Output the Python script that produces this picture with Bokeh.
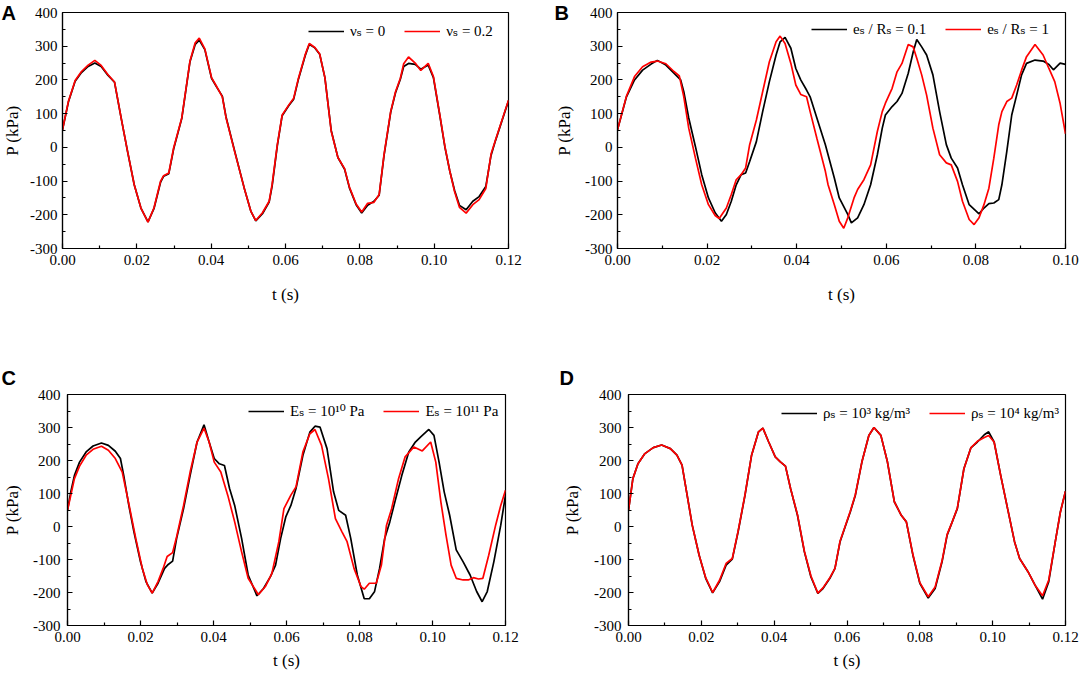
from bokeh.plotting import figure
from bokeh.models import Range1d, FixedTicker, Legend, LegendItem, Label
from bokeh.layouts import column, row
from bokeh.embed import file_html
from bokeh.resources import INLINE

# ---------------- data ----------------
# Panel A: v_s = 0 (black) and v_s = 0.2 (red)
tA = [0.0000, 0.0016, 0.0034, 0.0051, 0.0069, 0.0087, 0.0104, 0.0122, 0.0140, 0.0158,
      0.0175, 0.0193, 0.0211, 0.0230, 0.0246, 0.0264, 0.0272, 0.0286, 0.0299, 0.0321,
      0.0343, 0.0357, 0.0368, 0.0383, 0.0401, 0.0414, 0.0430, 0.0440, 0.0463, 0.0489,
      0.0507, 0.0520, 0.0538, 0.0556, 0.0564, 0.0578, 0.0591, 0.0609, 0.0622, 0.0635,
      0.0653, 0.0664, 0.0679, 0.0692, 0.0706, 0.0723, 0.0741, 0.0759, 0.0772, 0.0790,
      0.0805, 0.0821, 0.0838, 0.0852, 0.0865, 0.0883, 0.0896, 0.0909, 0.0918, 0.0931,
      0.0949, 0.0964, 0.0984, 0.0998, 0.1015, 0.1029, 0.1042, 0.1055, 0.1068, 0.1086,
      0.1104, 0.1121, 0.1139, 0.1153, 0.1165, 0.1200]
pA_v0 = [52, 135, 196, 222, 240, 250, 240, 214, 193, 86,
         -12, -111, -180, -221, -182, -103, -86, -78, -5, 86,
         254, 305, 318, 290, 205, 180, 152, 90, -10, -121,
         -190, -218, -197, -162, -115, 5, 94, 124, 143, 203,
         272, 306, 295, 276, 207, 50, -30, -65, -120, -170,
         -195, -172, -160, -142, -25, 104, 162, 202, 240, 249,
         246, 232, 244, 207, 96, 0, -70, -128, -172, -185,
         -160, -146, -116, -24, 20, 138]
pA_v02 = [52, 137, 198, 225, 244, 258, 243, 216, 194, 86,
          -12, -111, -180, -222, -180, -100, -84, -76, -2, 88,
          256, 310, 324, 292, 207, 182, 150, 88, -12, -121,
          -190, -217, -194, -160, -110, 8, 96, 126, 146, 206,
          275, 308, 296, 277, 207, 48, -30, -63, -118, -168,
          -192, -166, -163, -140, -22, 106, 165, 205, 248, 268,
          250, 228, 249, 210, 98, 2, -70, -132, -178, -195,
          -170, -155, -122, -20, 22, 140]

# Panel B: e_s/R_s = 0.1 (black) and e_s/R_s = 1 (red)
tB_01 = [0.0000, 0.0020, 0.0038, 0.0056, 0.0075, 0.0089, 0.0108, 0.0126, 0.0141, 0.0148,
         0.0159, 0.0174, 0.0188, 0.0203, 0.0218, 0.0232, 0.0243, 0.0254, 0.0265, 0.0276,
         0.0286, 0.0295, 0.0310, 0.0324, 0.0339, 0.0354, 0.0363, 0.0374, 0.0387, 0.0398,
         0.0409, 0.0422, 0.0430, 0.0445, 0.0464, 0.0470, 0.0484, 0.0495, 0.0514, 0.0522,
         0.0536, 0.0550, 0.0565, 0.0580, 0.0591, 0.0598, 0.0613, 0.0624, 0.0635, 0.0649,
         0.0660, 0.0668, 0.0679, 0.0690, 0.0704, 0.0719, 0.0734, 0.0745, 0.0759, 0.0770,
         0.0785, 0.0807, 0.0818, 0.0829, 0.0840, 0.0851, 0.0858, 0.0869, 0.0880, 0.0891,
         0.0902, 0.0913, 0.0932, 0.0950, 0.0963, 0.0973, 0.0988, 0.1000]
pB_01 = [52, 150, 200, 229, 247, 258, 244, 220, 200, 165,
         87, 2, -81, -150, -194, -219, -199, -160, -111, -81,
         -76, -42, 17, 106, 195, 274, 313, 326, 294, 234,
         200, 170, 150, 87, 8, -22, -91, -150, -199, -224,
         -209, -170, -111, -22, 57, 96, 121, 136, 160, 220,
         283, 320, 298, 274, 215, 106, 8, -32, -61, -111,
         -170, -197, -180, -167, -165, -155, -111, -12, 96, 155,
         215, 249, 259, 256, 246, 230, 250, 246]
tB_1 = [0.0000, 0.0020, 0.0038, 0.0056, 0.0075, 0.0089, 0.0108, 0.0126, 0.0138, 0.0148,
        0.0159, 0.0174, 0.0188, 0.0203, 0.0218, 0.0227, 0.0243, 0.0254, 0.0265, 0.0276,
        0.0286, 0.0295, 0.0310, 0.0324, 0.0339, 0.0354, 0.0363, 0.0374, 0.0387, 0.0398,
        0.0409, 0.0422, 0.0430, 0.0445, 0.0464, 0.0470, 0.0484, 0.0495, 0.0505, 0.0514,
        0.0528, 0.0536, 0.0550, 0.0565, 0.0580, 0.0591, 0.0598, 0.0613, 0.0624, 0.0635,
        0.0649, 0.0660, 0.0668, 0.0679, 0.0690, 0.0704, 0.0719, 0.0734, 0.0745, 0.0759,
        0.0770, 0.0785, 0.0796, 0.0807, 0.0818, 0.0829, 0.0840, 0.0851, 0.0858, 0.0869,
        0.0880, 0.0891, 0.0902, 0.0913, 0.0932, 0.0950, 0.0963, 0.0976, 0.0988, 0.1000]
pB_1 = [52, 152, 210, 239, 253, 256, 248, 225, 212, 150,
        57, -32, -111, -170, -202, -211, -180, -140, -96, -81,
        -61, 8, 81, 165, 254, 313, 330, 308, 249, 185,
        157, 150, 106, 27, -71, -111, -170, -219, -240, -209,
        -150, -125, -96, -52, 47, 106, 131, 175, 224, 249,
        305, 298, 264, 215, 155, 57, -22, -46, -52, -101,
        -160, -214, -229, -209, -170, -121, -32, 67, 106, 136,
        146, 185, 229, 269, 305, 274, 234, 195, 130, 40]

# Panel C: E_s = 1e10 Pa (black) and E_s = 1e11 Pa (red)
tC_10 = [0.0000, 0.0009, 0.0019, 0.0033, 0.0051, 0.0070, 0.0093, 0.0112, 0.0131, 0.0145,
         0.0154, 0.0168, 0.0182, 0.0200, 0.0215, 0.0232, 0.0248, 0.0266, 0.0276, 0.0288,
         0.0299, 0.0318, 0.0336, 0.0355, 0.0374, 0.0388, 0.0402, 0.0416, 0.0430, 0.0444,
         0.0458, 0.0477, 0.0495, 0.0519, 0.0537, 0.0556, 0.0570, 0.0584, 0.0598, 0.0612,
         0.0626, 0.0645, 0.0664, 0.0678, 0.0692, 0.0711, 0.0729, 0.0743, 0.0762, 0.0776,
         0.0794, 0.0813, 0.0827, 0.0841, 0.0855, 0.0869, 0.0883, 0.0897, 0.0916, 0.0935,
         0.0953, 0.0967, 0.0990, 0.1004, 0.1018, 0.1032, 0.1047, 0.1065, 0.1084, 0.1103,
         0.1121, 0.1136, 0.1150, 0.1168, 0.1187, 0.1200]
pC_10 = [49, 105, 155, 195, 226, 244, 253, 246, 228, 206,
         155, 64, -16, -107, -167, -202, -172, -127, -115, -105,
         -36, 54, 155, 256, 308, 256, 206, 190, 185, 115,
         64, -36, -147, -210, -188, -152, -117, -36, 29, 64,
         115, 216, 286, 304, 301, 236, 105, 49, 34, -36,
         -147, -219, -219, -198, -127, -36, 14, 75, 155, 226,
         256, 271, 294, 276, 195, 105, 34, -71, -107, -147,
         -197, -228, -197, -107, 4, 95]
tC_11 = [0.0000, 0.0019, 0.0033, 0.0051, 0.0070, 0.0093, 0.0112, 0.0131, 0.0150, 0.0168,
         0.0187, 0.0205, 0.0219, 0.0232, 0.0248, 0.0262, 0.0273, 0.0288, 0.0299, 0.0318,
         0.0336, 0.0355, 0.0374, 0.0388, 0.0402, 0.0420, 0.0439, 0.0458, 0.0477, 0.0495,
         0.0523, 0.0542, 0.0560, 0.0579, 0.0593, 0.0612, 0.0626, 0.0645, 0.0664, 0.0678,
         0.0696, 0.0715, 0.0734, 0.0752, 0.0766, 0.0785, 0.0804, 0.0813, 0.0827, 0.0846,
         0.0860, 0.0874, 0.0888, 0.0907, 0.0925, 0.0949, 0.0972, 0.0995, 0.1009, 0.1023,
         0.1037, 0.1051, 0.1065, 0.1084, 0.1098, 0.1112, 0.1126, 0.1138, 0.1154, 0.1173,
         0.1187, 0.1200]
pC_11 = [49, 145, 183, 216, 234, 243, 231, 206, 165, 69,
         -36, -127, -177, -202, -167, -127, -91, -79, -31, 64,
         165, 256, 298, 256, 195, 165, 95, 14, -77, -157,
         -207, -182, -142, -46, 54, 95, 120, 226, 281, 294,
         246, 145, 24, -16, -46, -127, -182, -190, -172, -172,
         -117, 4, 54, 145, 211, 241, 229, 256, 195, 74,
         -26, -117, -157, -162, -162, -155, -159, -157, -87, 4,
         64, 110]

# Panel D: rho_s = 1e3 kg/m3 (black) and rho_s = 1e4 kg/m3 (red)
tD = [0.0000, 0.0012, 0.0026, 0.0045, 0.0068, 0.0091, 0.0115, 0.0133, 0.0147, 0.0161,
      0.0175, 0.0194, 0.0212, 0.0231, 0.0250, 0.0268, 0.0285, 0.0301, 0.0320, 0.0338,
      0.0357, 0.0369, 0.0385, 0.0403, 0.0417, 0.0431, 0.0445, 0.0464, 0.0483, 0.0501,
      0.0520, 0.0534, 0.0553, 0.0567, 0.0581, 0.0595, 0.0609, 0.0623, 0.0641, 0.0660,
      0.0674, 0.0693, 0.0711, 0.0730, 0.0749, 0.0763, 0.0781, 0.0800, 0.0823, 0.0842,
      0.0861, 0.0875, 0.0889, 0.0903, 0.0921, 0.0940, 0.0958, 0.0977, 0.0989, 0.1004,
      0.1022, 0.1041, 0.1060, 0.1074, 0.1097, 0.1116, 0.1137, 0.1154, 0.1172, 0.1186,
      0.1200]
pD_3 = [49, 145, 190, 221, 239, 247, 236, 216, 186, 95,
        4, -87, -157, -201, -167, -117, -99, -16, 95, 216,
        287, 298, 256, 211, 196, 183, 115, 34, -77, -153,
        -203, -188, -157, -127, -46, -1, 44, 95, 196, 276,
        300, 276, 196, 75, 34, 14, -87, -172, -217, -188,
        -107, -26, 14, 54, 175, 238, 256, 278, 287, 256,
        155, 54, -46, -97, -137, -177, -220, -167, -46, 44,
        107]
pD_4 = [49, 145, 190, 221, 239, 247, 236, 216, 186, 95,
        4, -87, -155, -200, -163, -112, -97, -14, 97, 216,
        287, 298, 256, 211, 196, 183, 115, 36, -75, -150,
        -202, -186, -155, -127, -44, 1, 46, 97, 196, 276,
        300, 276, 196, 75, 34, 14, -85, -170, -213, -183,
        -104, -24, 14, 56, 175, 238, 258, 270, 276, 256,
        155, 54, -46, -97, -137, -177, -210, -162, -46, 44,
        107]

y_ticks = [-300, -200, -100, 0, 100, 200, 300, 400]
y_tick_labels = ["-300", "-200", "-100", "0", "100", "200", "300", "400"]
y_minor = [-250, -150, -50, 50, 150, 250, 350]
x_ticks_12 = [0.0, 0.02, 0.04, 0.06, 0.08, 0.10, 0.12]
x_labels_12 = ["0.00", "0.02", "0.04", "0.06", "0.08", "0.10", "0.12"]
x_minor_12 = [0.01, 0.03, 0.05, 0.07, 0.09, 0.11]
x_ticks_10 = [0.0, 0.02, 0.04, 0.06, 0.08, 0.10]
x_labels_10 = ["0.00", "0.02", "0.04", "0.06", "0.08", "0.10"]
x_minor_10 = [0.01, 0.03, 0.05, 0.07, 0.09]

SERIF = "Liberation Serif"
LEGFONT = "Liberation Serif, DejaVu Serif"
SANS = "Liberation Sans"
BLACK = "#000000"
RED = "#ff0000"


def panel(width, height, L, R, T, Bm, xmax, xt, xl, xm, yls, ys, xs, letter, side, lx, ly,
          series, labels, leg_xy):
    p = figure(width=width, height=height, x_range=Range1d(0, xmax),
               y_range=Range1d(-300, 400), output_backend="svg",
               toolbar_location=None, min_border_left=L, min_border_right=R,
               min_border_top=T, min_border_bottom=Bm)
    p.xgrid.visible = False
    p.ygrid.visible = False
    p.background_fill_color = "white"
    p.border_fill_color = "white"
    p.outline_line_color = BLACK
    p.outline_line_width = 1.2
    p.outline_line_alpha = 1.0

    p.xaxis.ticker = FixedTicker(ticks=xt, minor_ticks=xm)
    p.xaxis.major_label_overrides = {t: s for t, s in zip(xt, xl)}
    p.yaxis.ticker = FixedTicker(ticks=y_ticks, minor_ticks=y_minor)
    p.yaxis.major_label_overrides = {t: s for t, s in zip(y_ticks, y_tick_labels)}
    for ax in (p.xaxis[0], p.yaxis[0]):
        ax.axis_line_color = BLACK
        ax.axis_line_width = 1.2
        ax.major_tick_line_color = BLACK
        ax.minor_tick_line_color = BLACK
        ax.major_tick_line_width = 1.2
        ax.minor_tick_line_width = 1.2
        ax.major_tick_in = 5
        ax.major_tick_out = 0
        ax.minor_tick_in = 3
        ax.minor_tick_out = 0
        ax.major_label_text_font = SERIF
        ax.major_label_text_font_size = "15px"
        ax.major_label_text_color = BLACK
        ax.axis_label_text_font = SERIF
        ax.axis_label_text_font_size = "17px"
        ax.axis_label_text_font_style = "normal"
        ax.axis_label_text_color = BLACK
    p.xaxis.axis_label = "t (s)"
    p.yaxis.axis_label = "P (kPa)"
    p.xaxis.major_label_standoff = 6
    p.yaxis.major_label_standoff = yls
    p.yaxis.axis_label_standoff = ys
    p.xaxis.axis_label_standoff = xs

    rends = []
    for (tx, py), col in zip(series, [BLACK, RED]):
        r = p.line(tx, py, line_color=col, line_width=1.7)
        rends.append(r)

    leg = Legend(items=[LegendItem(label=labels[0], renderers=[rends[0]]),
                        LegendItem(label=labels[1], renderers=[rends[1]])],
                 orientation="horizontal", location=leg_xy,
                 border_line_color=None, background_fill_alpha=0.0,
                 label_text_font=LEGFONT, label_text_font_size="15px",
                 label_text_color=BLACK, glyph_width=36, glyph_height=20,
                 label_standoff=6, spacing=19, padding=0, margin=0)
    p.add_layout(leg)

    p.add_layout(Label(x=lx, y=ly, x_units="screen", y_units="screen",
                       text=letter, text_font=SANS, text_font_style="bold",
                       text_font_size="20px", text_color=BLACK,
                       text_baseline="top", text_align="left"), side)
    return p


pA = panel(552, 345, 57, 44, 12, 97, 0.12, x_ticks_12, x_labels_12, x_minor_12, 5, 5, 17,
           "A", "below", -61, 327, [(tA, pA_v0), (tA, pA_v02)],
           ["\u03bd\u209b = 0", "\u03bd\u209b = 0.2"], (246, 207))
pB = panel(527, 345, 60, 14, 12, 97, 0.10, x_ticks_10, x_labels_10, x_minor_10, 5, 8, 17,
           "B", "below", -63, 327, [(tB_01, pB_01), (tB_1, pB_1)],
           ["e\u209b / R\u209b = 0.1", "e\u209b / R\u209b = 1"], (194, 209))
pC = panel(560, 329, 62, 55, 49, 49, 0.12, x_ticks_12, x_labels_12, x_minor_12, 7, 8, 6,
           "C", "above", -66, 28, [(tC_10, pC_10), (tC_11, pC_11)],
           ["E\u209b = 10\u00b9\u2070 Pa", "E\u209b = 10\u00b9\u00b9 Pa"], (181, 204))
pD = panel(519, 329, 63, 14, 49, 49, 0.12, x_ticks_12, x_labels_12, x_minor_12, 7, 9, 6,
           "D", "above", -69, 28, [(tD, pD_3), (tD, pD_4)],
           ["\u03c1\u209b = 10\u00b3 kg/m\u00b3", "\u03c1\u209b = 10\u2074 kg/m\u00b3"], (153, 202))

layout = column(row(pA, pB), row(pC, pD))
open("out.html", "w").write(file_html(layout, INLINE))
